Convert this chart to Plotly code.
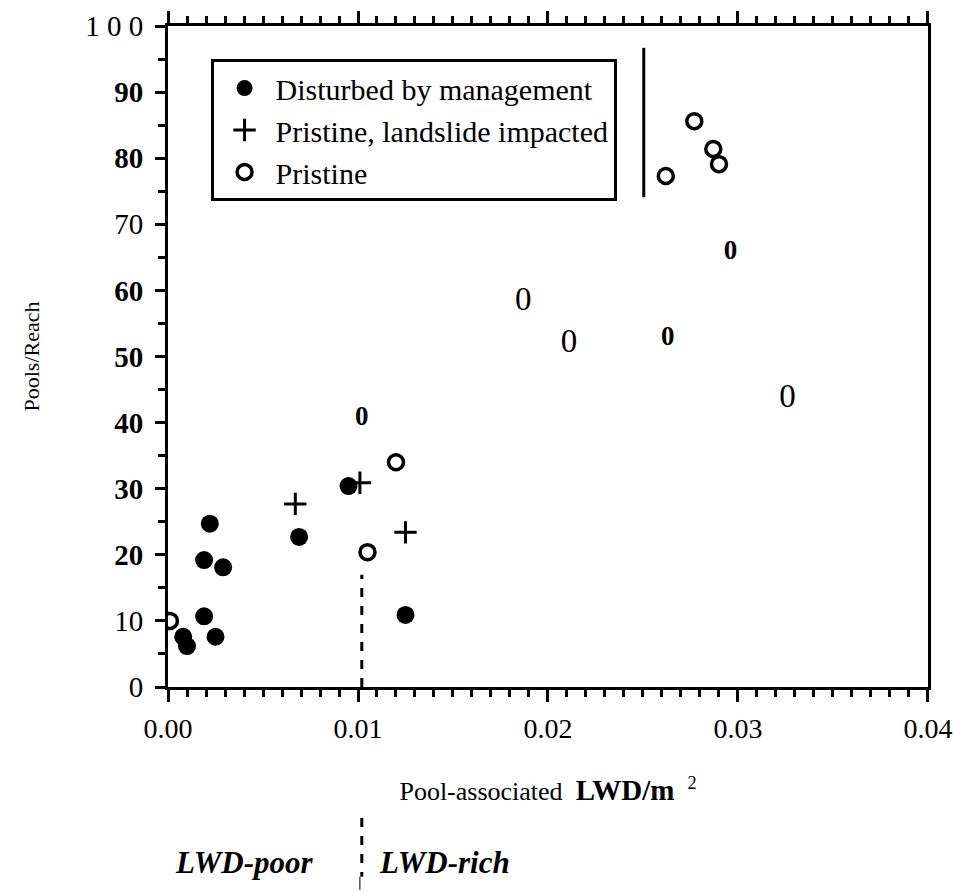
import plotly.graph_objects as go

# Disturbed by management (filled circles)
dist_x = [0.0022, 0.0019, 0.0029, 0.0019, 0.0025, 0.0008, 0.0010, 0.0069, 0.0095, 0.0125]
dist_y = [24.7, 19.2, 18.1, 10.7, 7.6, 7.6, 6.2, 22.7, 30.4, 10.9]

# Pristine, landslide impacted (plus signs)
slide_x = [0.0067, 0.0101, 0.0125]
slide_y = [27.7, 30.9, 23.4]

# Pristine (open circles)
prist_x = [0.0001, 0.0105, 0.0120, 0.0277, 0.0287, 0.0290, 0.0262]
prist_y = [10.0, 20.4, 34.0, 85.6, 81.4, 79.1, 77.3]

# Pristine reaches printed as "0" glyphs
glyph_x = [0.0187, 0.0211, 0.0326]
glyph_y = [58.3, 52.0, 43.6]
glyph_bold_x = [0.0102, 0.0263, 0.0296]
glyph_bold_y = [40.7, 52.8, 65.7]

# LWD-poor / LWD-rich boundary
threshold = 0.0102
threshold_line_top = 17

x_ticks = [0.00, 0.01, 0.02, 0.03, 0.04]
x_ticktext = ["0.00", "0.01", "0.02", "0.03", "0.04"]
y_ticks = [0, 10, 20, 30, 40, 50, 60, 70, 80, 90, 100]
y_ticktext = ["0", "10", "<b>20</b>", "<b>30</b>", "<b>40</b>", "<b>50</b>",
              "<b>60</b>", "70", "<b>80</b>", "<b>90</b>", "1 0 0"]

FONT = "Liberation Serif"

fig = go.Figure()

fig.add_trace(go.Scatter(
    x=dist_x, y=dist_y, mode="markers", name="Disturbed by management",
    marker=dict(symbol="circle", size=18, color="black"),
))
fig.add_trace(go.Scatter(
    x=slide_x, y=slide_y, mode="markers", name="Pristine, landslide impacted",
    marker=dict(symbol="cross-thin", size=16, color="black",
                line=dict(color="black", width=3)),
))
fig.add_trace(go.Scatter(
    x=prist_x, y=prist_y, mode="markers", name="Pristine",
    marker=dict(symbol="circle-open", size=15, color="black",
                line=dict(color="black", width=3.5)),
))
fig.add_trace(go.Scatter(
    x=glyph_x, y=glyph_y, mode="text", text=["0"] * len(glyph_x),
    textfont=dict(family=FONT, size=33, color="black"),
    showlegend=False, hoverinfo="skip",
))
fig.add_trace(go.Scatter(
    x=glyph_bold_x, y=glyph_bold_y, mode="text", text=["<b>0</b>"] * len(glyph_bold_x),
    textfont=dict(family=FONT, size=27, color="black"),
    showlegend=False, hoverinfo="skip",
))

# dashed boundary inside the plot
fig.add_shape(type="line", xref="x", yref="y", x0=threshold, x1=threshold,
              y0=0, y1=threshold_line_top,
              line=dict(color="black", width=3, dash="dash"))
# dashed separator between the LWD-poor / LWD-rich labels
fig.add_shape(type="line", xref="x", yref="paper", x0=threshold, x1=threshold,
              y0=-0.198, y1=-0.287,
              line=dict(color="black", width=3, dash="dash"))
fig.add_shape(type="line", xref="x", yref="paper", x0=threshold - 0.0001,
              x1=threshold - 0.0001, y0=-0.287, y1=-0.307,
              line=dict(color="black", width=1))
# extra rule to the right of the legend box
fig.add_shape(type="line", xref="paper", yref="paper", x0=0.626, x1=0.626,
              y0=0.741, y1=0.967, line=dict(color="black", width=3))

fig.add_annotation(text="<b><i>LWD-poor</i></b>", xref="x", yref="paper",
                   x=threshold, y=-0.265, xanchor="right", yanchor="middle",
                   xshift=-46, showarrow=False,
                   font=dict(family=FONT, size=31, color="black"))
fig.add_annotation(text="<b><i>LWD-rich</i></b>", xref="x", yref="paper",
                   x=threshold, y=-0.265, xanchor="left", yanchor="middle",
                   xshift=15, showarrow=False,
                   font=dict(family=FONT, size=31, color="black"))

fig.update_layout(
    width=953, height=892,
    margin=dict(l=168, r=25, t=26, b=205),
    paper_bgcolor="white", plot_bgcolor="white",
    font=dict(family=FONT, color="black"),
    showlegend=True,
    legend=dict(
        x=0.056, y=0.95, xanchor="left", yanchor="top",
        bgcolor="white", bordercolor="black", borderwidth=3,
        font=dict(family=FONT, size=30, color="black"),
        itemwidth=52, traceorder="normal",
    ),
    xaxis=dict(
        range=[0, 0.040001], tickvals=x_ticks, ticktext=x_ticktext,
        showgrid=False, zeroline=False, automargin=False,
        showline=True, linecolor="black", linewidth=3, mirror="ticks",
        ticks="outside", ticklen=12, tickwidth=3, tickcolor="black",
        ticklabelstandoff=2, ticklabeloverflow="allow",
        tickfont=dict(family=FONT, size=28, color="black"),
        minor=dict(dtick=0.001, ticks="outside", ticklen=7, tickwidth=2.5,
                   tickcolor="black", showgrid=False),
        title=dict(text="Pool-associated  <span style='font-size:29px'><b>LWD/m</b></span>  <sup>2</sup>",
                   font=dict(family=FONT, size=26, color="black"), standoff=40),
    ),
    yaxis=dict(
        range=[0, 100], tickvals=y_ticks, ticktext=y_ticktext,
        showgrid=False, zeroline=False, automargin=False,
        showline=True, linecolor="black", linewidth=3, mirror=True,
        ticks="outside", ticklen=10, tickwidth=3, tickcolor="black",
        ticklabelstandoff=6,
        tickfont=dict(family=FONT, size=29, color="black"),
        minor=dict(dtick=5, ticks="outside", ticklen=7, tickwidth=2.5,
                   tickcolor="black", showgrid=False),
        title=dict(text="Pools/Reach", font=dict(family=FONT, size=22, color="black"),
                   standoff=40),
    ),
)

fig.write_html("out.html")
